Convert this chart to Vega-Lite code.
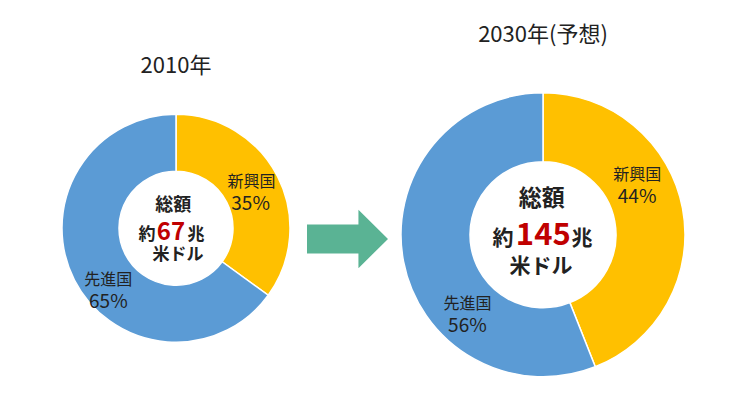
{
  "$schema": "https://vega.github.io/schema/vega-lite/v6.json",
  "autosize": {"type": "none"},
  "padding": {"left": 30, "right": 52, "top": 68, "bottom": 0},
  "width": 659,
  "height": 327,
  "background": "white",
  "config": {
    "view": {"stroke": null},
    "text": {"font": "Noto Sans CJK JP", "color": "#222222"}
  },
  "datasets": {
    "shares": [
      {"year": "2010年", "group": "新興国", "share": 35, "rank": 1},
      {"year": "2010年", "group": "先進国", "share": 65, "rank": 2},
      {"year": "2030年(予想)", "group": "新興国", "share": 44, "rank": 1},
      {"year": "2030年(予想)", "group": "先進国", "share": 56, "rank": 2}
    ],
    "totals": [
      {"year": "2010年", "total": 67},
      {"year": "2030年(予想)", "total": 145}
    ]
  },
  "layer": [
    {
      "data": {"name": "shares"},
      "transform": [
        {"filter": "datum.year === '2010年'"},
        {"stack": "share", "groupby": ["year"], "sort": [{"field": "rank"}], "as": ["s0", "s1"]}
      ],
      "mark": {"type": "arc", "outerRadius": 114, "innerRadius": 57, "stroke": "white", "strokeWidth": 1.5, "yOffset": -3.25},
      "encoding": {
        "x": {"field": "year", "type": "nominal", "scale": {"type": "point", "domain": ["2010年", "2030年(予想)"], "padding": 0.3978}, "axis": null},
        "theta": {"field": "s0", "type": "quantitative", "stack": null, "scale": {"domain": [0, 100]}},
        "theta2": {"field": "s1"},
        "color": {"field": "group", "type": "nominal", "scale": {"domain": ["新興国", "先進国"], "range": ["#FFC000", "#5B9BD5"]}, "legend": null}
      }
    },
    {
      "data": {"name": "shares"},
      "transform": [
        {"filter": "datum.year === '2030年(予想)'"},
        {"stack": "share", "groupby": ["year"], "sort": [{"field": "rank"}], "as": ["s0", "s1"]}
      ],
      "mark": {"type": "arc", "outerRadius": 142, "innerRadius": 73, "stroke": "white", "strokeWidth": 1.5, "yOffset": 3.25},
      "encoding": {
        "x": {"field": "year", "type": "nominal", "axis": null},
        "theta": {"field": "s0", "type": "quantitative", "stack": null, "scale": {"domain": [0, 100]}},
        "theta2": {"field": "s1"},
        "color": {"field": "group", "type": "nominal", "legend": null}
      }
    },
    {
      "data": {"name": "shares"},
      "transform": [
        {"filter": "datum.year === '2010年'"},
        {"stack": "share", "groupby": ["year"], "sort": [{"field": "rank"}], "as": ["s0", "s1"]},
        {"calculate": "(datum.s0 + datum.s1) / 2", "as": "mid"},
        {"calculate": "datum.share + '%'", "as": "pct"}
      ],
      "layer": [
        {
          "transform": [{"filter": "datum.group === '新興国'"}],
          "layer": [
            {"mark": {"type": "text", "radius": 86, "fontSize": 16, "dx": -1, "dy": -10.75, "baseline": "middle"}, "encoding": {"text": {"field": "group"}}},
            {"mark": {"type": "text", "radius": 86, "fontSize": 19, "dx": -2, "dy": 11.75, "baseline": "middle"}, "encoding": {"text": {"field": "pct"}}}
          ]
        },
        {
          "transform": [{"filter": "datum.group === '先進国'"}],
          "layer": [
            {"mark": {"type": "text", "radius": 86, "fontSize": 16, "dx": 9, "dy": 9.25, "baseline": "middle"}, "encoding": {"text": {"field": "group"}}},
            {"mark": {"type": "text", "radius": 86, "fontSize": 19, "dx": 9, "dy": 31.75, "baseline": "middle"}, "encoding": {"text": {"field": "pct"}}}
          ]
        }
      ],
      "encoding": {
        "x": {"field": "year", "type": "nominal", "axis": null},
        "theta": {"field": "mid", "type": "quantitative", "stack": null, "scale": {"domain": [0, 100]}}
      }
    },
    {
      "data": {"name": "shares"},
      "transform": [
        {"filter": "datum.year === '2030年(予想)'"},
        {"stack": "share", "groupby": ["year"], "sort": [{"field": "rank"}], "as": ["s0", "s1"]},
        {"calculate": "(datum.s0 + datum.s1) / 2", "as": "mid"},
        {"calculate": "datum.share + '%'", "as": "pct"}
      ],
      "layer": [
        {
          "transform": [{"filter": "datum.group === '新興国'"}],
          "layer": [
            {"mark": {"type": "text", "radius": 106, "fontSize": 16, "dx": -10, "dy": -36.25, "baseline": "middle"}, "encoding": {"text": {"field": "group"}}},
            {"mark": {"type": "text", "radius": 106, "fontSize": 19, "dx": -10, "dy": -14.25, "baseline": "middle"}, "encoding": {"text": {"field": "pct"}}}
          ]
        },
        {
          "transform": [{"filter": "datum.group === '先進国'"}],
          "layer": [
            {"mark": {"type": "text", "radius": 106, "fontSize": 16, "dx": 28.5, "dy": 52.25, "baseline": "middle"}, "encoding": {"text": {"field": "group"}}},
            {"mark": {"type": "text", "radius": 106, "fontSize": 19, "dx": 28.5, "dy": 74.25, "baseline": "middle"}, "encoding": {"text": {"field": "pct"}}}
          ]
        }
      ],
      "encoding": {
        "x": {"field": "year", "type": "nominal", "axis": null},
        "theta": {"field": "mid", "type": "quantitative", "stack": null, "scale": {"domain": [0, 100]}}
      }
    },
    {
      "data": {"name": "totals"},
      "transform": [{"filter": "datum.year === '2010年'"}],
      "encoding": {
        "x": {"field": "year", "type": "nominal", "axis": null}
      },
      "layer": [
        {"mark": {"type": "text", "fontSize": 22, "dy": -165.25, "baseline": "middle"}, "encoding": {"text": {"field": "year"}}},
        {"mark": {"type": "text", "text": "総額", "fontSize": 18, "fontWeight": "bold", "dx": -2.7, "dy": -25.75, "baseline": "middle"}},
        {"mark": {"type": "text", "text": "約", "fontSize": 17, "fontWeight": "bold", "dx": -20.5, "dy": 8.5, "align": "right", "baseline": "alphabetic"}},
        {"mark": {"type": "text", "fontSize": 24, "fontWeight": "bold", "color": "#C00000", "dx": -5, "dy": 8.5, "baseline": "alphabetic"}, "encoding": {"text": {"field": "total", "type": "nominal"}}},
        {"mark": {"type": "text", "text": "兆", "fontSize": 17, "fontWeight": "bold", "dx": 11.5, "dy": 8.5, "align": "left", "baseline": "alphabetic"}},
        {"mark": {"type": "text", "text": "米ドル", "fontSize": 17, "fontWeight": "bold", "dx": 2, "dy": 23.5, "baseline": "middle"}}
      ]
    },
    {
      "data": {"name": "totals"},
      "transform": [{"filter": "datum.year === '2030年(予想)'"}],
      "encoding": {
        "x": {"field": "year", "type": "nominal", "axis": null}
      },
      "layer": [
        {"mark": {"type": "text", "fontSize": 22, "dy": -196.75, "baseline": "middle"}, "encoding": {"text": {"field": "year"}}},
        {"mark": {"type": "text", "text": "総額", "fontSize": 23, "fontWeight": "bold", "dx": -1.3, "dy": -32.5, "baseline": "middle"}},
        {"mark": {"type": "text", "text": "約", "fontSize": 21, "fontWeight": "bold", "dx": -29.5, "dy": 13.5, "align": "right", "baseline": "alphabetic"}},
        {"mark": {"type": "text", "fontSize": 31, "fontWeight": "bold", "color": "#C00000", "dx": 0.3, "dy": 13.5, "baseline": "alphabetic"}, "encoding": {"text": {"field": "total", "type": "nominal"}}},
        {"mark": {"type": "text", "text": "兆", "fontSize": 21, "fontWeight": "bold", "dx": 28.5, "dy": 13.5, "align": "left", "baseline": "alphabetic"}},
        {"mark": {"type": "text", "text": "米ドル", "fontSize": 21, "fontWeight": "bold", "dx": -2, "dy": 35, "baseline": "middle"}}
      ]
    },
    {
      "data": {"values": [{"step": "2010年→2030年"}]},
      "mark": {"type": "point", "shape": "M-1,-0.36L0.27,-0.36L0.27,-0.72L1,0L0.27,0.72L0.27,0.36L-1,0.36Z", "size": 6561, "filled": true, "color": "#5AB394", "opacity": 1, "strokeWidth": 0, "xOffset": -12, "yOffset": 7.5},
      "encoding": {}
    }
  ]
}
